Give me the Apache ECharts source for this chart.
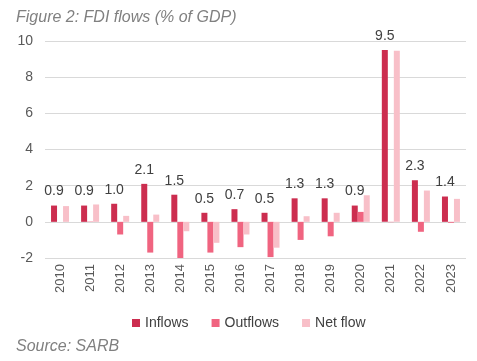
<!DOCTYPE html>
<html>
<head>
<meta charset="utf-8">
<script src="https://cdn.jsdelivr.net/npm/echarts@6/dist/echarts.min.js"></script>
<style>
html,body{margin:0;padding:0;background:#fff;}
#c{width:477px;height:361px;}
</style>
</head>
<body>
<div id="c"></div>
<script>
var years = ['2010','2011','2012','2013','2014','2015','2016','2017','2018','2019','2020','2021','2022','2023'];
var inflows = [0.9, 0.9, 1.0, 2.1, 1.5, 0.5, 0.7, 0.5, 1.3, 1.3, 0.9, 9.5, 2.3, 1.4];
var outflows = [0.0, 0.02, -0.7, -1.7, -2.0, -1.7, -1.4, -1.95, -1.0, -0.8, 0.55, -0.02, -0.55, -0.05];
var netflow = [0.87, 0.96, 0.33, 0.4, -0.52, -1.16, -0.7, -1.43, 0.31, 0.5, 1.47, 9.46, 1.73, 1.27];
var yTicks = [-2, 0, 2, 4, 6, 8, 10];

var chart = echarts.init(document.getElementById('c'), null, {renderer:'canvas'});
var font = 'Liberation Sans, Arial, sans-serif';
chart.setOption({
  animation: false,
  textStyle: {fontFamily: font},
  title: [
    {text: 'Figure 2: FDI flows (% of GDP)', left: 11, top: 5,
     textStyle: {fontSize: 16, fontStyle: 'italic', fontWeight: 'normal', color: '#808080', fontFamily: font}},
    {text: 'Source: SARB', left: 11, top: 334,
     textStyle: {fontSize: 16, fontStyle: 'italic', fontWeight: 'normal', color: '#808080', fontFamily: font}}
  ],
  legend: {
    top: 311, left: 127,
    itemWidth: 8, itemHeight: 8, itemGap: 23,
    icon: 'rect',
    textStyle: {fontSize: 14, color: '#404040', fontFamily: font},
    data: ['Inflows', 'Outflows', 'Net flow']
  },
  grid: {left: 45, right: 11, top: 41, bottom: 103, containLabel: false},
  xAxis: {
    type: 'category', data: years,
    axisLine: {show: false, onZero: false},
    axisTick: {show: false},
    axisLabel: {rotate: 90, fontSize: 13, color: '#595959', margin: 6, fontFamily: font}
  },
  yAxis: {
    type: 'value', min: yTicks[0], max: yTicks[yTicks.length-1], interval: 2,
    axisLine: {show: false}, axisTick: {show: false},
    axisLabel: {fontSize: 14, color: '#595959', margin: 12, fontFamily: font},
    splitLine: {lineStyle: {color: '#d9d9d9', width: 1}}
  },
  series: [
    {name: 'Inflows', type: 'bar', data: inflows, barWidth: 6, barGap: '0%',
     itemStyle: {color: '#CC2D4F'},
     label: {show: true, position: 'top', distance: 7, fontSize: 14, color: '#404040', fontFamily: font,
             formatter: function(p){return p.value.toFixed(1);}}},
    {name: 'Outflows', type: 'bar', data: outflows, barWidth: 6, barGap: '0%',
     itemStyle: {color: '#F06480'}},
    {name: 'Net flow', type: 'bar', data: netflow, barWidth: 6, barGap: '0%',
     itemStyle: {color: '#F8BFC8'}}
  ]
});
</script>
</body>
</html>
